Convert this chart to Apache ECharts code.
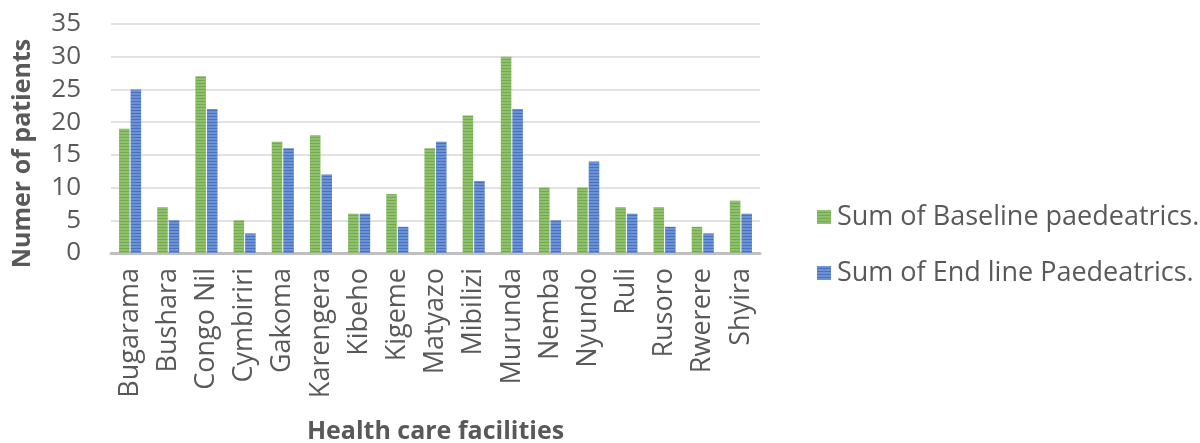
<!DOCTYPE html>
<html>
<head>
<meta charset="utf-8">
<script src="https://cdn.jsdelivr.net/npm/echarts@6/dist/echarts.min.js"></script>
<style>html,body{margin:0;padding:0;background:#fff}#c{width:1200px;height:443px}</style>
</head>
<body>
<div id="c"></div>
<script>
const categories = ['Bugarama','Bushara','Congo Nil','Cymbiriri','Gakoma','Karengera','Kibeho','Kigeme','Matyazo','Mibilizi','Murunda','Nemba','Nyundo','Ruli','Rusoro','Rwerere','Shyira'];
const baseline = [19, 7, 27, 5, 17, 18, 6, 9, 16, 21, 30, 10, 10, 7, 7, 4, 8];
const endline = [25, 5, 22, 3, 16, 12, 6, 4, 17, 11, 22, 5, 14, 6, 4, 3, 6];
const yTicks = [0, 5, 10, 15, 20, 25, 30, 35];
const seriesNames = ['Sum of Baseline paedeatrics.', 'Sum of End line Paedeatrics.'];

const FONT = 'Open Sans';
const decal = {symbol: 'rect', symbolSize: 1, dashArrayX: [[1, 0]], dashArrayY: [2, 1], color: 'rgba(255,255,255,0.22)', rotation: 0};
const chart = echarts.init(document.getElementById('c'), null, {renderer: 'canvas'});
chart.setOption({
  animation: false,
  textStyle: {fontFamily: FONT},
  grid: {left: 111, right: 440, top: 24, bottom: 190, containLabel: false, outerBoundsMode: 'none'},
  legend: {
    orient: 'vertical', left: 812, top: 197, itemGap: 26, itemWidth: 14, itemHeight: 14,
    icon: 'rect',
    textStyle: {fontFamily: FONT, fontSize: 27, lineHeight: 30, color: '#595959', padding: [0, 0, 0, 1]},
    data: seriesNames
  },
  xAxis: {
    type: 'category', data: categories,
    axisLine: {lineStyle: {color: '#bfbfbf', width: 3}},
    axisTick: {show: false},
    axisLabel: {rotate: 90, fontSize: 27, color: '#595959', margin: 15, interval: 0, fontFamily: FONT},
    name: 'Health care facilities', nameLocation: 'middle', nameGap: 166,
    nameTextStyle: {fontSize: 25, fontWeight: 'bold', color: '#595959', fontFamily: FONT}
  },
  yAxis: {
    type: 'value', min: 0, max: 35, interval: 5,
    axisLine: {show: false}, axisTick: {show: false},
    axisLabel: {fontSize: 26, color: '#595959', margin: 30, fontFamily: FONT,
      formatter: v => yTicks.includes(v) ? String(v) : ''},
    splitLine: {lineStyle: {color: '#d9d9d9', width: 1.5}},
    name: 'Numer of patients', nameLocation: 'middle', nameGap: 76, nameRotate: 90,
    nameTextStyle: {fontSize: 25, fontWeight: 'bold', color: '#595959', fontFamily: FONT, padding: [0, 30, 0, 0]}
  },
  series: [
    {name: seriesNames[0], type: 'bar', data: baseline, barWidth: 10.5, barGap: '10%',
     itemStyle: {color: '#70ad47', decal: decal}},
    {name: seriesNames[1], type: 'bar', data: endline, barWidth: 10.5, barGap: '10%',
     itemStyle: {color: '#4472c4', decal: decal}}
  ]
});
</script>
</body>
</html>
